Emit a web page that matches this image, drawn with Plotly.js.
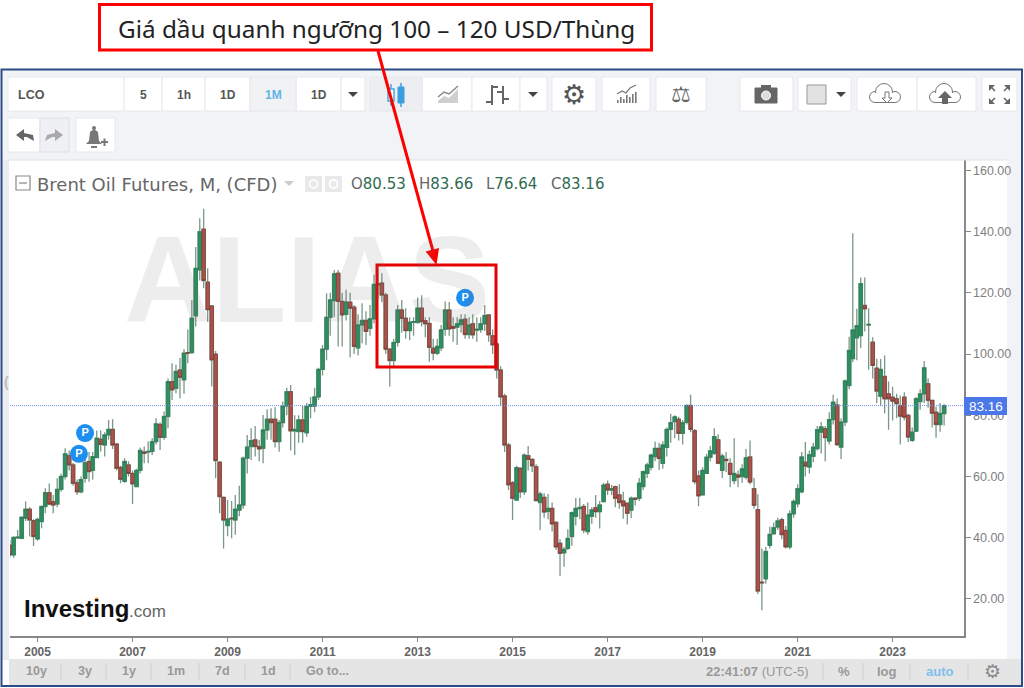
<!DOCTYPE html>
<html><head><meta charset="utf-8">
<script src="https://cdn.plot.ly/plotly-3.0.1.min.js"></script>
<style>html,body{margin:0;padding:0;background:#fff}#chart{width:1024px;height:688px}</style>
</head><body><div id="chart"></div>
<script>
const firstMonth = [2004, 6];
const opens = [
37.6,34.4,40,39.8,46.4,49.3,45.6,
39.6,45.3,50.2,54.7,51.8,51,55.8,60,66.8,63.8,58,55,
59.4,64.9,62,66.2,72.2,70.3,73.6,75.4,70.6,63,58.4,63.8,
61,56.7,62,68,68,68.2,71.4,77,72.8,79.6,91,88.8,
94.8,91.6,100.5,100.5,112.5,127.5,140.8,123.5,115.7,100,64.7,53.2,
44,46.4,45.8,49,50.7,66,69.8,72,69.8,69.2,75.2,78.7,
78.7,71.4,77.6,83,87.7,74.9,74.7,78.5,74.3,82.9,83,86,
95,101.6,112,117.5,126.4,117.2,113,117,115.3,102,109.5,111,
108.4,111.5,122.6,123.2,119.3,101.6,97.9,103.8,114.4,111.7,107.7,110.4,
110.3,115,110.9,110,101.9,100.3,102,108.1,114.4,109,108.8,109.6,
111.4,106.4,109.9,107.8,108,109.9,112.8,106,103.3,94.8,86.3,70.3,
58,52.3,62.7,55,66.8,65.6,63.2,51.5,53.2,48.6,49.6,45,
38.2,35.1,36.5,40.4,47,49.5,50.2,42,47,49.8,48.5,51.8,
57.5,55.6,56.7,54,52,51.3,49,52.9,52.9,56.7,61,63,
66.5,69.2,64.3,69.5,75.4,77.9,78.7,74.1,77.7,83.2,75,60.2,
54,61,66.3,67.6,72,62,65.6,64.3,58.7,60.5,60,59.8,
66.4,56,49.2,25.5,26.6,37.5,41.3,43.5,45.9,42.4,37,47.8,
51.1,55,64.7,63.1,66.6,69.1,74.5,75.6,71.6,78.6,83.4,69.6,
77.8,89.7,98.5,105.3,106,115.9,109.5,103.9,95.4,86.2,92.7,87,
85.9,85.4,83.2,85.9,80,71.8,74.8,84.5,87,90.3,84.9,81,
77,80.53];
const highs = [
39.3,40.5,42.5,46.9,51.8,50,46,
46.5,50.5,56.2,57.7,54,59.4,60.9,69.2,68.5,64.5,59,60,
67,68,68,75,75,74.5,78.5,78.7,71,63.5,66,65,
62,62.5,69.5,69.8,71.4,72.5,79,77.7,81.2,92,97,96.5,
98.7,101.6,108,117.7,135,144.4,147.5,128,116,101,65,53.5,
52.3,52,54,57,66.5,73.6,75.8,76.5,72,80.1,82,82.3,
82.6,78.5,84.5,89,89.9,80,80,83,84,86,89,95.5,
103,119.9,120,127.5,127.5,120,121,120,116,113,116.6,114,
116,125.9,128,126.4,120,102,105,116,117.7,115,112,112,
118.5,119.2,112,112,105,105,109.5,117.2,117,112,112,113,
113,112,113,112,112,116,113,108,104,96,87,71,
58.5,63.5,63,67.5,70,66,64,55,54.5,54.3,51.5,45.5,
39.5,37,42.8,48.6,53,53.1,51,51.5,50,54,52,58,
58.7,57.2,57,57.5,55,51.5,53.5,53.2,59.5,62,64.5,67.5,
71.4,71,71.5,76,80.5,80,79.5,78.5,83.6,86.7,75.5,62,
63,67.4,70,75.8,73.8,67.4,68,66,72.5,62,64,69,
71.8,59.5,54.2,36.5,37,43.7,45,46.5,46.5,43.8,49,52.5,
57.5,68,71.3,68.5,71,76.5,77.8,76.5,81,86.7,85.5,79,
91.7,105.7,139.5,114.8,125,125,115,105.5,98.5,98.4,99.5,91,
89.3,87,86.5,87.5,80.5,76,86,88.5,97.7,92,85,82.8,
84,83.66];
const lows = [
33.3,33.5,39.5,39.5,45.5,40.4,37.3,
39,43.1,48,50.6,48,50,55,59,62,57,54,54.5,
58,58.3,59,66,68.2,66.5,72,69,62,57.8,58,60,
51,56.5,61,64.3,64.3,67,70.5,68.7,72,75.8,85,87.2,
85.6,87,97,100,109,124,121.5,110.6,89.4,59.4,48,36.5,
40.5,39.8,41,47,49.5,61,65.4,66.5,65,64.3,72,72,
69.5,68.1,76,80,68.5,67,71,71,73,79,81,85,
93,98,106,112,102.5,102.5,111,99,100,99.5,103.5,103,
106,110,118,117,100,89.4,96,102.5,107,105,104.5,106,
110,109,105.5,97.5,98,99.7,101,106,106,104,103,107,
105,105,105,104,107,107.5,104,100,92,83,68,55.6,
45.8,52,53,54,62,61.5,52,42.5,46.5,46,42,36,
27.5,30.5,36,37.4,44,46,41.5,41,44.6,46.5,43,51.5,
54,54,50,49.5,46.2,44.3,46.4,50.5,52,55.5,59.5,62,
65,62.1,62.5,66.5,71,72.5,71.8,70.5,77,74.5,57.5,50.3,
54,61,65,67,64,59.5,61.5,56.5,57.5,56.5,58,59,
57.5,49.5,21.6,16.3,25,36.5,41,42.5,39.5,36.5,36.2,46.5,
50,54.5,60,61,64.7,68.5,67.5,65,70.5,77,70,65.7,
76.5,88.5,97.3,98,102,107.4,94.9,92,84,83,80.7,75.3,
78.3,79,70.5,78.3,71.3,71.3,74.7,81.8,84,82.5,76,72.7,
74.6,76.64];
const closes = [
34.4,40.1,40.2,46.7,49.3,45.8,40.4,
46,50.2,54.7,51,50.7,55.8,60,67.4,63.8,57.8,55,59,
64.5,61.6,66.5,72.5,70.5,73.6,75.4,70.3,62.7,59.1,64.9,61,
57.6,62,68.5,67.6,68.2,71.4,77.2,72.8,79.6,91,88.3,94.3,
92.4,100.3,100.3,111.7,128,140,124,114.5,98.1,65.2,53.4,45.8,
46.1,46.2,49.3,50.7,66,69.6,71.7,69.8,69,75.2,78.7,77.6,
71.4,77.6,83,87.7,74.9,75.4,78.5,74.7,82.9,83.5,86,95,
101.6,112,117.7,126.2,117.2,112.8,117,115,102.5,109.5,111,107.4,
111.5,122.8,122.9,119.3,101.6,97.9,103.8,114.4,111.7,107.7,110.4,110.6,
115,110.6,109.9,102.2,100.3,102.5,107.9,114.4,108.2,108.4,109.9,111.2,
106.4,109.5,106.3,108.1,109.9,112.6,106.3,103,94.8,86,70.3,57.3,
52.9,62.9,55,67,65.6,63.5,52.1,54.3,48.4,49.6,44.5,37,
34.9,36.2,39.8,48.2,49.6,49.9,42.5,47.4,49.1,48.5,50.7,57.2,
55.6,56,52.9,51.5,50.4,48,52.9,52.6,57.8,61.6,63.8,67,
69.2,65.9,70.3,75.4,77.6,79.5,74.1,77.6,83.2,75.4,58.3,53.7,
62,66.3,68.4,73,64.3,66.7,65.2,60.7,61,59.8,62.5,66.1,
58.2,50.6,22.6,25.3,35.5,41.1,43.3,45.5,41,37,47.8,51.9,
56,66.4,63.4,67.1,69.6,75.3,76.2,72.7,78.6,84.3,70.4,77.8,
91.2,101.2,107.9,109.3,123,114.8,109.7,96.3,87.9,95,85.4,85.4,
84.6,83.8,79.7,79.4,72.9,74.5,85.4,87,95.5,84.9,80.7,77,
80.6,83.16];
const yTicks = [20,40,60,80,100,120,140,160];
const lastPrice = 83.16;
const markerDates = ['2006-01-01','2005-11-15','2014-01-01'];
const markerPrices = [74.2,67.4,118.4];
const watermark = 'ALIAS';
const titleText = 'Giá dầu quanh ngưỡng 100 – 120 USD/Thùng';

const dates = opens.map((_, i) => {
  const m = firstMonth[1] - 1 + i;
  const y = firstMonth[0] + Math.floor(m / 12);
  return y + '-' + String(m % 12 + 1).padStart(2, '0') + '-01';
});
if (![highs, lows, closes].every(a => a.length === opens.length)) throw new Error('length mismatch');

const PL = 10, PR = 964, PT = 160, PB = 636;
const X = x => (x - PL) / (PR - PL), Y = y => (PB - y) / (PB - PT);
const shapes = [], ann = [];
const base = (o) => Object.assign({xref:'paper', yref:'paper'}, o);
function rect(x0,y0,x1,y1,fill,line,lw,layer){shapes.push(base({type:'rect',x0:X(x0),x1:X(x1),y0:Y(y0),y1:Y(y1),fillcolor:fill||'rgba(0,0,0,0)',line:{color:line||'rgba(0,0,0,0)',width:line?(lw||1):0},layer:layer||'above'}));}
function circ(cx,cy,r,fill,line,lw){shapes.push(base({type:'circle',x0:X(cx-r),x1:X(cx+r),y0:Y(cy+r),y1:Y(cy-r),fillcolor:fill||'rgba(0,0,0,0)',line:{color:line||'rgba(0,0,0,0)',width:line?(lw||1):0}}));}
function seg(x0,y0,x1,y1,color,lw,dash){shapes.push(base({type:'line',x0:X(x0),x1:X(x1),y0:Y(y0),y1:Y(y1),line:{color:color,width:lw||1,dash:dash||'solid'}}));}
function poly(pts,fill,line,lw,open){const d='M '+pts.map(p=>X(p[0]).toFixed(5)+' '+Y(p[1]).toFixed(5)).join(' L ')+(open?'':' Z');shapes.push(base({type:'path',path:d,fillcolor:fill||'rgba(0,0,0,0)',line:{color:line||'rgba(0,0,0,0)',width:line?(lw||1):0}}));}
function T(x,y,s,size,color,o){o=o||{};ann.push({xref:'paper',yref:'paper',x:X(x),y:Y(y),text:s,showarrow:false,xanchor:o.a||'center',yanchor:'middle',borderpad:0,borderwidth:0,
  font:{family:o.f||'Liberation Sans, Arial, sans-serif',size:size,color:color,weight:o.w||'normal'}});}

/* window chrome */
rect(2,70,1022,160,'#f1f3f7',null,0,'below');
rect(2,160,9,660,'#eaecf1',null,0,'below');
rect(1007,160,1022,660,'#f1f3f7',null,0,'below');
rect(9,659,1022,685,'#e5e5e5',null,0,'below');
seg(9,160,1007,160,'#dfe1e5',1);
rect(1.5,69.5,1022,686,null,'#2b4c86',2);

/* toolbar */
const BTN='#ffffff',BTNL='#e6e8ec';
[[8,124],[124,162],[162,205],[205,250],[296,341],[341,365],[422,472],[472,520],[520,547],[552,596],[602,650],[656,706],[740,793],[798,851],[857,917],[917,976],[982,1017]].forEach(b=>rect(b[0],77,b[1],111,BTN,BTNL,1));
rect(250,77,296,111,'#f0f2f4',BTNL,1);
rect(370,77,422,111,'#eceef1',BTNL,1);
rect(8,118,40,152,BTN,BTNL,1);rect(40,118,69,152,'#eef0f3','#dde0e4',1);rect(76,118,115,152,BTN,BTNL,1);
T(18,94.5,'LCO',12.5,'#555',{a:'left',w:'bold'});
T(143,94.5,'5',12,'#555',{w:'bold'});T(183.5,94.5,'1h',12,'#555',{w:'bold'});T(228,94.5,'1D',12,'#555',{w:'bold'});
T(273,94.5,'1M',12,'#62b5e5',{w:'bold'});T(319,94.5,'1D',12,'#555',{w:'bold'});
const caret=(cx,cy)=>poly([[cx-5,cy-2],[cx+5,cy-2],[cx,cy+3]],'#444');
caret(353,94);caret(533,94);caret(841,94);
/* candle icon */
seg(391,84,391,106,'#4ba6e0',1.5);rect(388,89,394,101,'#ffffff','#4ba6e0',1.5);
seg(401,83,401,107,'#3b9fdf',1.5);rect(398,87,404,103,'#3b9fdf','#3b9fdf',1);
/* area icon */
poly([[438,101],[444,96],[449,98],[458,89],[458,103],[438,103]],'#cfcfcf');
poly([[438,97],[444,92],[449,94],[458,86]],null,'#888',1.5,true);
/* bar icon */
seg(492,85,492,105,'#666',2);seg(492,87,498,87,'#666',2);seg(486,102,492,102,'#666',2);
seg(503,86,503,104,'#666',2);seg(497,92,503,92,'#666',2);seg(503,99,509,99,'#666',2);
T(574,94,'⚙',27,'#555',{f:'DejaVu Sans'});
/* indicators icon */
[[617,3],[620,6],[623,4],[626,8],[629,6],[632,9],[635,11]].forEach(b=>rect(b[0],103-b[1],b[0]+1.6,103,'#777'));
poly([[617,94],[622,91],[626,93],[630,88],[636,85]],null,'#777',1.2,true);
T(681,94,'⚖',22,'#666',{f:'DejaVu Sans'});
/* camera */
rect(755,88,777,103,'#666','#666',1);rect(761,85,771,89,'#666');circ(766,95.5,4.5,'#ddd','#fff',1);
/* colour */
rect(807,85,826,104,'#e2e2e2','#999',1);
/* clouds */
function cloud(cx,fill,col){circ(cx-10,97,5.5,fill,col,1);circ(cx+10,97,5.5,fill,col,1);circ(cx-1,92,8.5,fill,col,1);rect(cx-10,93,cx+10,102.2,fill);seg(cx-10,102.5,cx+10,102.5,col,1);}
cloud(885,'#fff','#777');poly([[885,92],[889,92],[889,98],[892,98],[887,103],[882,98],[885,98]],'#fff','#777',1);
cloud(945,'#fff','#777');poly([[945,91],[952,98],[948,98],[948,104],[942,104],[942,98],[938,98]],'#666');
/* fullscreen */
poly([[989,85],[995,85],[989,91]],'#666');seg(991,87,995,91,'#666',1.6);
poly([[1010,85],[1004,85],[1010,91]],'#666');seg(1008,87,1004,91,'#666',1.6);
poly([[989,104],[995,104],[989,98]],'#666');seg(991,102,995,98,'#666',1.6);
poly([[1010,104],[1004,104],[1010,98]],'#666');seg(1008,102,1004,98,'#666',1.6);
/* undo, redo, alert */
poly([[16,135],[24,129],[24,133],[33,135],[34,141],[27,137],[24,137],[24,141]],'#666');
poly([[63,135],[55,129],[55,133],[47,135],[45,141],[52,137],[55,137],[55,141]],'#aaa');
circ(94,128,2,'#777');poly([[90,132],[94,129],[98,132],[99,141],[102,144],[86,144],[89,141]],'#777');
seg(101,142,108,142,'#777',2);seg(104.5,138.5,104.5,146,'#777',2);rect(91,146,97,148,'#777');

/* chart header */
rect(16,176,30,190,null,'#888',1.2);seg(19,183,27,183,'#888',1.2);
T(37,184,'Brent Oil Futures, M, (CFD)',18,'#666',{a:'left',f:'DejaVu Sans'});
poly([[284,181],[294,181],[289,186]],'#ccc');
rect(305,176,322,192,'#e9e9e9');circ(313.5,184,4,null,'#fff',1.5);
rect(325,176,342,192,'#e9e9e9');circ(333.5,184,4,null,'#fff',2);
const G='#2f6b4f',H='#666';
T(351,184,`<span style="color:${H}">O</span>80.53`,15,G,{a:'left',f:'DejaVu Sans'});
T(419,184,`<span style="color:${H}">H</span>83.66`,15,G,{a:'left',f:'DejaVu Sans'});
T(486,184,`<span style="color:${H}">L</span>76.64`,15,G,{a:'left',f:'DejaVu Sans'});
T(551,184,`<span style="color:${H}">C</span>83.16`,15,G,{a:'left',f:'DejaVu Sans'});

/* watermark */
T(307,280,watermark,122,'rgba(110,110,110,0.125)',{w:'bold'});
/* side handle */
T(6,382,'(',14,'#bbb',{w:'bold'});

/* logo */
T(24,608,'Investing',24,'#111',{a:'left',w:'bold'});
T(129,611,'.com',17,'#666',{a:'left'});
circ(96.5,599,1.8,'#f5a623');

/* bottom bar */
const B='#999';
[[36,'10y'],[85,'3y'],[129,'1y'],[176,'1m'],[222,'7d'],[268,'1d']].forEach(t=>T(t[0],671,t[1],12.5,B,{w:'bold'}));
T(306,671,'Go to...',12.5,B,{a:'left',w:'bold'});
[61,106,151,199,245,290].forEach(x=>seg(x,663,x,680,'#cfcfcf',1));
T(706,671,'<b>22:41:07</b> (UTC-5)',13,B,{a:'left'});
T(844,671,'%',13,B,{w:'bold'});T(887,671,'log',13,B,{w:'bold'});T(940,671,'auto',13,'#7ec0ea',{w:'bold'});
[823,863,910,968].forEach(x=>seg(x,663,x,680,'#cfcfcf',1));
T(992,671,'⚙',19,'#888',{f:'DejaVu Sans'});

/* price line + label */
shapes.push({type:'line',xref:'paper',yref:'y',x0:0,x1:1,y0:lastPrice,y1:lastPrice,line:{color:'#6f92f5',width:1,dash:'1px,1px'},layer:'above'});
rect(964,397,1007,415,'#4a78e8');
T(985.5,406,'83.16',13.5,'#ffffff');

/* headline box, arrow, highlight */
rect(99.5,4.5,651.5,50,'#ffffff','#ff0000',3);
T(376,28,titleText,24.3,'#222',{f:'Noto Sans'});
seg(378,51,433,251,'#ff0000',3);
poly([[436.5,265],[425.6,251.5],[439,248]],'#ff0000');
rect(377,265,496,367,null,'#e60000',3);

const bodyHigh = opens.map((o,i)=>Math.max(o,closes[i]));
const bodyLow = opens.map((o,i)=>Math.min(o,closes[i]));
const traces = [
 {type:'candlestick',x:dates,open:opens,high:highs,low:lows,close:closes,whiskerwidth:0,
  increasing:{line:{color:'#7a9788',width:1.3},fillcolor:'#7a9788'},decreasing:{line:{color:'#7a9788',width:1.3},fillcolor:'#7a9788'},hoverinfo:'skip',showlegend:false},
 {type:'candlestick',x:dates,open:opens,high:bodyHigh,low:bodyLow,close:closes,whiskerwidth:0,
  increasing:{line:{color:'#2a7d55',width:0.7},fillcolor:'#2e8f60'},decreasing:{line:{color:'#7e3a33',width:0.7},fillcolor:'#ad524a'},hoverinfo:'skip',showlegend:false},
 {type:'scatter',mode:'markers+text',x:markerDates,y:markerPrices,text:['P','P','P'],textposition:'middle center',
  textfont:{family:'Liberation Sans',size:11,color:'#fff',weight:'bold'},marker:{size:18,color:'#1c8ff0'},hoverinfo:'skip',showlegend:false}
];
const layout = {
 width:1024,height:688,autosize:false,margin:{l:PL,r:1024-PR,t:PT,b:688-PB,pad:0},
 paper_bgcolor:'#fff',plot_bgcolor:'#fff',showlegend:false,boxgap:0.06,boxgroupgap:0,boxmode:'overlay',
 xaxis:{type:'date',range:['2004-06-03','2024-07-03'],tick0:'2005-01-01',dtick:'M24',tickformat:'%Y',ticks:'outside',ticklen:4,tickcolor:'#888',
  showgrid:false,zeroline:false,showline:true,linecolor:'#888',linewidth:1.5,rangeslider:{visible:false},
  tickfont:{family:'Liberation Sans',size:12,color:'#666',weight:'bold'}},
 yaxis:{side:'right',range:[7.9,163.4],tickvals:yTicks,tickformat:'.2f',ticks:'outside',ticklen:5,tickcolor:'#888',
  showgrid:false,zeroline:false,showline:true,linecolor:'#888',linewidth:1.5,
  tickfont:{family:'Liberation Sans',size:12.5,color:'#808080'}},
 shapes:shapes,annotations:ann
};
Plotly.newPlot('chart',traces,layout,{displayModeBar:false,staticPlot:true});
</script></body></html>
